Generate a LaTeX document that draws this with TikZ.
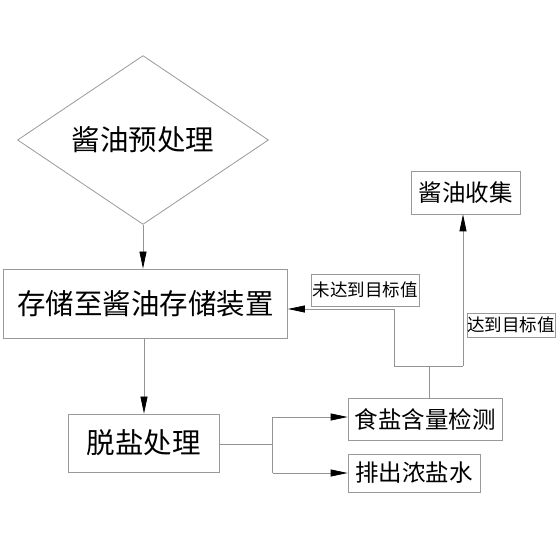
\documentclass[tikz,border=0pt]{standalone}
\usepackage{fontspec}
\newfontfamily\cjk{Noto Sans CJK SC}
\usetikzlibrary{shapes.geometric,arrows.meta}
\begin{document}
\begin{tikzpicture}[x=1pt,y=1pt,
  box/.style={draw=gray!80, line width=0.8pt, fill=white, inner sep=0pt, font=\cjk},
  lbl/.style={draw=gray!80, line width=0.6pt, fill=white, inner sep=0pt, font=\cjk\fontsize{17.5}{17.5}\selectfont},
  conn/.style={draw=gray!85, line width=0.8pt},
  arr/.style={conn, -{Triangle[length=17pt,width=7pt,fill=black,color=black]}}]
\useasboundingbox (0,0) rectangle (560,560);
\node[box, diamond, minimum width=251pt, minimum height=116pt, font=\cjk\fontsize{28.5}{28.5}\selectfont] (pre) at (143,420) {酱油预处理};
\node[box, minimum width=284pt, minimum height=69pt, font=\cjk\fontsize{28.5}{28.5}\selectfont] (store) at (145.5,256.5) {存储至酱油存储装置};
\node[box, minimum width=151pt, minimum height=58pt, font=\cjk\fontsize{28.5}{28.5}\selectfont] (desalt) at (143.5,117) {脱盐处理};
\node[box, minimum width=154pt, minimum height=42pt, font=\cjk\fontsize{23.5}{23.5}\selectfont] (detect) at (425,141) {食盐含量检测};
\node[box, minimum width=132pt, minimum height=38pt, font=\cjk\fontsize{23.5}{23.5}\selectfont] (brine) at (414,87) {排出浓盐水};
\node[box, minimum width=109pt, minimum height=43pt, font=\cjk\fontsize{23.5}{23.5}\selectfont] (collect) at (465.5,367.5) {酱油收集};
\node[lbl, minimum width=108pt, minimum height=32pt] (l1) at (365,270) {未达到目标值};
\node[lbl, minimum width=88pt, minimum height=24pt] (l2) at (511,235) {达到目标值};
\coordinate (jd) at (272.5,116);
\coordinate (j1) at (394,194);
\coordinate (j2) at (463,194);
\coordinate (jt) at (429,194);
\coordinate (jl) at (394,251);
\draw[arr] (pre.south) -- (store.north -| pre.south);
\draw[arr] (store.south -| 144,0) -- (desalt.north -| 144,0);
\draw[conn] (desalt.east |- jd) -- (jd);
\draw[arr] (jd |- 0,143) -- (detect.west |- 0,143);
\draw[conn] (jd |- 0,143) -- (jd |- 0,87);
\draw[arr] (jd |- 0,87) -- (brine.west);
\draw[conn] (detect.north -| jt) -- (jt);
\draw[conn] (j1) -- (j2);
\draw[arr] (j1) -- (jl) -- (store.east |- jl);
\draw[arr] (j2) -- (collect.south -| j2);
\end{tikzpicture}
\end{document}
